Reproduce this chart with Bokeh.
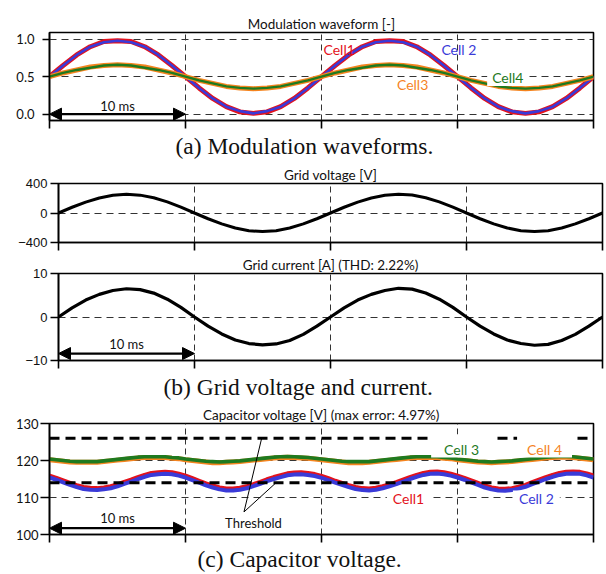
from bokeh.plotting import figure
from bokeh.models import Range1d, FixedTicker, Title, Label, Arrow, NormalHead, Span
from bokeh.embed import file_html
from bokeh.resources import INLINE

# ---------------- data ----------------
# (a) modulation waveforms, time in ms (1 ms steps)
t_a = list(range(41))
cell1_mod = [0.50, 0.65, 0.79, 0.90, 0.97, 0.98, 0.97, 0.90, 0.79, 0.65,
             0.50, 0.35, 0.21, 0.10, 0.03, 0.01, 0.03, 0.10, 0.21, 0.35,
             0.50, 0.65, 0.79, 0.90, 0.97, 0.98, 0.97, 0.90, 0.79, 0.65,
             0.50, 0.35, 0.21, 0.10, 0.03, 0.01, 0.03, 0.10, 0.21, 0.35, 0.50]
cell2_mod = [0.50, 0.65, 0.79, 0.90, 0.96, 0.98, 0.96, 0.90, 0.79, 0.65,
             0.50, 0.35, 0.21, 0.10, 0.04, 0.01, 0.04, 0.10, 0.21, 0.35,
             0.50, 0.65, 0.79, 0.90, 0.96, 0.98, 0.96, 0.90, 0.79, 0.65,
             0.50, 0.35, 0.21, 0.10, 0.04, 0.01, 0.04, 0.10, 0.21, 0.35, 0.50]
cell3_mod = [0.50, 0.55, 0.59, 0.63, 0.65, 0.66, 0.65, 0.63, 0.59, 0.55,
             0.50, 0.45, 0.41, 0.37, 0.35, 0.34, 0.35, 0.37, 0.41, 0.45,
             0.50, 0.55, 0.59, 0.63, 0.65, 0.66, 0.65, 0.63, 0.59, 0.55,
             0.50, 0.45, 0.41, 0.37, 0.35, 0.34, 0.35, 0.37, 0.41, 0.45, 0.50]
cell4_mod = [0.50, 0.55, 0.59, 0.62, 0.65, 0.66, 0.65, 0.62, 0.59, 0.55,
             0.50, 0.45, 0.41, 0.37, 0.35, 0.34, 0.35, 0.37, 0.41, 0.45,
             0.50, 0.55, 0.59, 0.62, 0.65, 0.66, 0.65, 0.62, 0.59, 0.55,
             0.50, 0.45, 0.41, 0.37, 0.35, 0.34, 0.35, 0.37, 0.41, 0.45, 0.50]

# (b) grid voltage [V] and grid current [A] (1 ms steps)
t_b = list(range(41))
grid_voltage = [0, 78, 148, 204, 240, 254, 242, 206, 150, 79,
                0, -78, -148, -203, -240, -252, -240, -204, -148, -78,
                0, 78, 148, 204, 241, 255, 243, 206, 150, 79,
                0, -78, -148, -203, -240, -252, -240, -204, -148, -78, 0]
grid_current = [0, 2.1, 3.9, 5.2, 6.1, 6.5, 6.3, 5.5, 4.1, 2.2,
                0, -2.1, -3.9, -5.3, -6.1, -6.4, -6.2, -5.4, -4.0, -2.1,
                0, 2.1, 3.9, 5.2, 6.1, 6.6, 6.4, 5.5, 4.1, 2.2,
                0, -2.1, -3.9, -5.3, -6.1, -6.5, -6.3, -5.4, -4.0, -2.1, 0]

# (c) capacitor voltages [V] (0.5 ms steps)
t_c = [i * 0.5 for i in range(81)]
cap_cell1 = [115.8, 115.2, 114.5, 113.8, 113.2, 112.7, 112.5, 112.4, 112.6, 112.9,
             113.4, 114.1, 114.7, 115.4, 116.0, 116.5, 116.7, 116.8, 116.7, 116.3,
             115.8, 115.1, 114.4, 113.7, 113.1, 112.6, 112.3, 112.3, 112.5, 112.9,
             113.5, 114.1, 114.8, 115.4, 115.9, 116.4, 116.6, 116.7, 116.5, 116.2,
             115.7, 115.1, 114.4, 113.8, 113.2, 112.7, 112.4, 112.3, 112.5, 112.9,
             113.4, 114.0, 114.7, 115.4, 116.0, 116.5, 116.8, 116.9, 116.7, 116.3,
             115.8, 115.2, 114.5, 113.8, 113.1, 112.6, 112.3, 112.2, 112.4, 112.8,
             113.3, 114.0, 114.7, 115.4, 116.0, 116.5, 116.8, 116.9, 116.8, 116.4, 115.8]
cap_cell2 = [115.4, 114.8, 114.1, 113.4, 112.8, 112.3, 112.1, 112.0, 112.2, 112.5,
             113.0, 113.7, 114.3, 115.0, 115.6, 116.1, 116.3, 116.4, 116.3, 115.9,
             115.4, 114.7, 114.0, 113.3, 112.7, 112.2, 111.9, 111.9, 112.1, 112.5,
             113.1, 113.7, 114.4, 115.0, 115.5, 116.0, 116.2, 116.3, 116.1, 115.8,
             115.3, 114.7, 114.0, 113.4, 112.8, 112.3, 112.0, 111.9, 112.1, 112.5,
             113.0, 113.6, 114.3, 115.0, 115.6, 116.1, 116.4, 116.5, 116.3, 115.9,
             115.4, 114.8, 114.1, 113.4, 112.7, 112.2, 111.9, 111.8, 112.0, 112.4,
             112.9, 113.6, 114.3, 115.0, 115.6, 116.1, 116.4, 116.5, 116.4, 116.0, 115.4]
cap_cell3 = [120.4, 120.2, 120.0, 119.8, 119.7, 119.7, 119.7, 119.7, 119.9, 120.1,
             120.3, 120.5, 120.7, 120.9, 121.0, 121.0, 121.0, 121.0, 120.8, 120.7,
             120.4, 120.2, 120.0, 119.8, 119.7, 119.6, 119.7, 119.8, 119.9, 120.1,
             120.3, 120.5, 120.7, 120.9, 121.0, 121.1, 121.0, 120.9, 120.8, 120.6,
             120.4, 120.2, 120.0, 119.8, 119.7, 119.7, 119.7, 119.7, 119.9, 120.1,
             120.3, 120.5, 120.7, 120.9, 121.0, 121.0, 121.0, 121.0, 120.8, 120.7,
             120.4, 120.2, 120.0, 119.8, 119.7, 119.6, 119.7, 119.8, 119.9, 120.1,
             120.3, 120.5, 120.7, 120.9, 121.0, 121.1, 121.1, 121.0, 120.8, 120.6, 120.4]
cap_cell4 = [120.2, 120.0, 119.8, 119.6, 119.5, 119.5, 119.5, 119.5, 119.7, 119.9,
             120.1, 120.3, 120.5, 120.7, 120.8, 120.8, 120.8, 120.8, 120.6, 120.5,
             120.2, 120.0, 119.8, 119.6, 119.4, 119.4, 119.5, 119.6, 119.7, 119.9,
             120.1, 120.3, 120.5, 120.7, 120.8, 120.9, 120.8, 120.7, 120.6, 120.4,
             120.2, 120.0, 119.8, 119.6, 119.4, 119.4, 119.4, 119.5, 119.7, 119.9,
             120.1, 120.3, 120.5, 120.7, 120.8, 120.8, 120.8, 120.8, 120.6, 120.5,
             120.2, 120.0, 119.8, 119.6, 119.5, 119.4, 119.5, 119.6, 119.7, 119.9,
             120.1, 120.3, 120.5, 120.7, 120.8, 120.9, 120.9, 120.8, 120.6, 120.4, 120.2]
threshold_levels = [126, 114]

# ticks
x_ticks = [0, 10, 20, 30, 40]
x_grid = [10, 20, 30]
mod_ticks = [0.0, 0.5, 1.0]
mod_tick_labels = {0.0: "0.0", 0.5: "0.5", 1.0: "1.0"}
volt_ticks = [-400, 0, 400]
volt_tick_labels = {-400: "\u2212400", 0: "0", 400: "400"}
curr_ticks = [-10, 0, 10]
curr_tick_labels = {-10: "\u221210", 0: "0", 10: "10"}
cap_ticks = [100, 110, 120, 130]

RED = "#e3121c"
BLUE = "#3a3ad8"
ORANGE = "#f5841f"
GREEN = "#1f7a1f"
SANS = "Lato"


def make_fig(width, height, left, right, top, bottom, yr, title, yticks, ylab_font, ytick_out, ystandoff):
    p = figure(width=width, height=height, x_range=Range1d(0, 40), y_range=Range1d(*yr),
               output_backend="svg", toolbar_location=None,
               min_border_left=left, min_border_right=right,
               min_border_top=top, min_border_bottom=bottom, title=title)
    p.title.align = "center"
    p.title.text_font = SANS
    p.title.text_font_size = "13.5px"
    p.title.text_font_style = "normal"
    p.title.text_color = "#111111"
    p.title.standoff = 2
    p.outline_line_color = "black"
    p.outline_line_width = 1.6
    p.outline_line_alpha = 1
    p.background_fill_color = "white"
    p.border_fill_color = "white"
    xa = p.xaxis[0]
    xa.ticker = FixedTicker(ticks=x_ticks)
    xa.major_label_text_font_size = "1px"
    xa.major_label_text_color = None
    xa.major_label_standoff = 0
    xa.major_tick_out = 8
    xa.major_tick_in = 0
    xa.minor_tick_out = 0
    xa.minor_tick_in = 0
    xa.major_tick_line_width = 1.6
    xa.axis_line_width = 1.6
    ya = p.yaxis[0]
    ya.ticker = FixedTicker(ticks=yticks)
    ya.major_label_text_font = ylab_font
    ya.major_label_text_font_size = "13px"
    ya.major_label_text_color = "#111111"
    ya.major_label_standoff = ystandoff
    ya.major_tick_out = ytick_out
    ya.major_tick_in = 0
    ya.minor_tick_out = 0
    ya.minor_tick_in = 0
    ya.major_tick_line_width = 1.6
    ya.axis_line_width = 1.6
    p.xgrid.ticker = FixedTicker(ticks=x_grid)
    p.xgrid.grid_line_color = "#333333"
    p.xgrid.grid_line_dash = "6 4"
    p.xgrid.grid_line_width = 1
    p.ygrid.grid_line_color = "#333333"
    p.ygrid.grid_line_dash = "7 5"
    p.ygrid.grid_line_width = 1
    return p


def caption(p, text, offset, standoff=2):
    p.add_layout(Title(text=text, align="left", offset=offset, text_font="Liberation Serif",
                       text_font_size="23.5px", text_font_style="normal", text_color="#111111",
                       standoff=standoff), "below")


def arrow10(p, y, ylab):
    p.add_layout(Arrow(start=NormalHead(size=12, fill_color="black", line_color="black"),
                       end=NormalHead(size=12, fill_color="black", line_color="black"),
                       x_start=0, y_start=y, x_end=10, y_end=y, line_width=2.2, line_color="black"))
    p.add_layout(Label(x=5, y=ylab, text="10 ms", text_align="center", text_baseline="middle",
                       text_font=SANS, text_font_size="13px", text_color="#111111"))


def tag(p, x, y, text, color, bg=False, pad=None):
    kw = {}
    if bg:
        kw = dict(background_fill_color="white", background_fill_alpha=1.0)
        if pad is not None:
            kw["padding"] = pad
    p.add_layout(Label(x=x, y=y, text=text, text_align="center", text_baseline="middle",
                       text_font=SANS, text_font_size="14px", text_color=color, **kw))


# ---------------- (a) ----------------
fa = make_fig(606, 163, 49, 13, 32, 43, (-0.085, 1.09), "Modulation waveform [-]",
              mod_ticks, SANS, 7, 8)
fa.yaxis[0].major_label_overrides = mod_tick_labels
fa.ygrid.ticker = FixedTicker(ticks=mod_ticks)
fa.line(t_a, cell1_mod, line_color=RED, line_width=5)
fa.line(t_a, cell2_mod, line_color=BLUE, line_width=2.6)
fa.line(t_a, cell3_mod, line_color=ORANGE, line_width=5)
fa.line(t_a, cell4_mod, line_color=GREEN, line_width=2.4)
arrow10(fa, 0.0, 0.11)
tag(fa, 21.3, 0.866, "Cell1", RED)
tag(fa, 30.1, 0.866, "Cell 2", BLUE)
tag(fa, 26.7, 0.40, "Cell3", ORANGE)
tag(fa, 33.7, 0.49, "Cell4", GREEN, bg=True, pad=dict(left=5, right=5, top=0, bottom=0))
caption(fa, "(a) Modulation waveforms.", 126, standoff=5)

# ---------------- (b) voltage ----------------
fv = make_fig(606, 89, 58, 4, 19, 10, (-400, 400), "Grid voltage [V]",
              volt_ticks, "Liberation Sans", 8, 3)
fv.yaxis[0].major_label_overrides = volt_tick_labels
fv.ygrid.ticker = FixedTicker(ticks=[0])
fv.line(t_b, grid_voltage, line_color="black", line_width=3)

# ---------------- (b) current ----------------
fi = make_fig(606, 150, 58, 4, 21, 37, (-10, 10), "Grid current [A] (THD: 2.22%)",
              curr_ticks, "Liberation Sans", 8, 3)
fi.yaxis[0].major_label_overrides = curr_tick_labels
fi.ygrid.ticker = FixedTicker(ticks=[0])
fi.line(t_b, grid_current, line_color="black", line_width=3.2)
arrow10(fi, -8.4, -6.3)
caption(fi, "(b) Grid voltage and current.", 105, standoff=6)

# ---------------- (c) ----------------
fc = make_fig(606, 170, 49, 13, 21, 35, (100, 130), "Capacitor voltage [V] (max error: 4.97%)",
              cap_ticks, SANS, 9, 2)
fc.ygrid.ticker = FixedTicker(ticks=[110, 120])
fc.line(t_c, cap_cell4, line_color=ORANGE, line_width=5)
fc.line(t_c, cap_cell3, line_color=GREEN, line_width=3.6)
fc.line(t_c, cap_cell1, line_color=RED, line_width=5)
fc.line(t_c, cap_cell2, line_color=BLUE, line_width=4)
for lvl in threshold_levels:
    fc.add_layout(Span(location=lvl, dimension="width", line_color="black",
                       line_width=3, line_dash="10 6"))
fc.segment(x0=[14.3, 14.3], y0=[106.1, 106.1], x1=[15.6, 16.6], y1=[126.0, 113.8],
           line_color="black", line_width=1)
fc.add_layout(Label(x=15.0, y=103.1, text="Threshold", text_align="center", text_baseline="middle",
                    text_font=SANS, text_font_size="13px", text_color="#111111"))
arrow10(fc, 101.7, 104.5)
tag(fc, 30.3, 123.9, "Cell 3", GREEN, bg=True, pad=dict(left=13, right=13, top=6, bottom=0))
tag(fc, 36.4, 123.9, "Cell 4", ORANGE, bg=True, pad=dict(left=10, right=10, top=6, bottom=0))
tag(fc, 26.4, 109.6, "Cell1", RED, bg=True, pad=dict(left=6, right=6, top=0, bottom=0))
tag(fc, 35.8, 109.6, "Cell 2", BLUE, bg=True, pad=dict(left=6, right=6, top=0, bottom=0))
caption(fc, "(c) Capacitor voltage.", 148)

open("out.html", "w").write(file_html([fa, fv, fi, fc], INLINE))
